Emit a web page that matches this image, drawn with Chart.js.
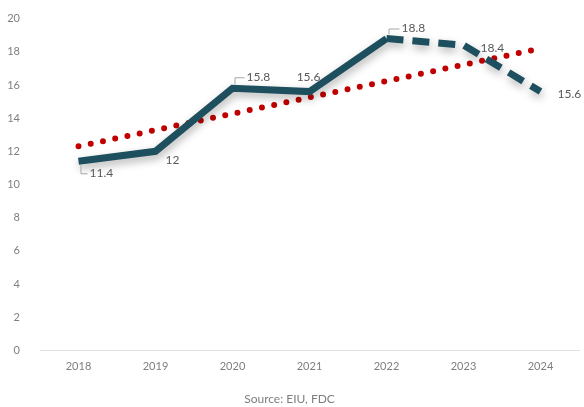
<!DOCTYPE html>
<html>
<head>
<meta charset="utf-8">
<script src="https://cdn.jsdelivr.net/npm/chart.js@4.4.1/dist/chart.umd.min.js"></script>
<style>
  html, body { margin: 0; padding: 0; background: #fff; }
  #wrap { width: 584px; height: 407px; }
</style>
</head>
<body>
<div id="wrap"><canvas id="chart" width="584" height="407"></canvas></div>
<script>
var years = ["2018", "2019", "2020", "2021", "2022", "2023", "2024"];
var growth = [11.4, 12, 15.8, 15.6, 18.8, 18.4, 15.6];
// straight trend line, only its two ends are given
var trend = [12.3, null, null, null, null, null, 18.2];
var yTicks = [0, 2, 4, 6, 8, 10, 12, 14, 16, 18, 20];

// where each value label sits relative to its point
var labelPos = [
  { dx: 11, dy: 12, align: "left", leader: true },
  { dx: 10, dy: 9, align: "left" },
  { dx: 14, dy: -11, align: "left", leader: true },
  { dx: -1, dy: -14, align: "center" },
  { dx: 15, dy: -10, align: "left", leader: true },
  { dx: 17, dy: 3, align: "left" },
  { dx: 17, dy: 3, align: "left" }
];

var lineShadow = {
  id: "lineShadow",
  beforeDatasetDraw: function(chart, args) {
    if (args.index !== 0) return;
    var ctx = chart.ctx;
    ctx.save();
    ctx.shadowColor = "rgba(0,0,0,0.3)";
    ctx.shadowBlur = 8;
    ctx.shadowOffsetX = 1;
    ctx.shadowOffsetY = 4;
  },
  afterDatasetDraw: function(chart, args) {
    if (args.index !== 0) return;
    chart.ctx.restore();
  }
};

var valueLabels = {
  id: "valueLabels",
  afterDatasetsDraw: function(chart) {
    var ctx = chart.ctx;
    var meta = chart.getDatasetMeta(0);
    ctx.save();
    ctx.font = "12px Lato, 'DejaVu Sans', sans-serif";
    ctx.fillStyle = "#595959";
    ctx.textBaseline = "middle";
    meta.data.forEach(function(pt, i) {
      var p = labelPos[i];
      var x = pt.x + p.dx, y = pt.y + p.dy;
      ctx.textAlign = p.align;
      ctx.fillText(String(growth[i]), x, y);
      if (p.leader) {
        // small bracket from the point to its label
        ctx.strokeStyle = "#a6a6a6";
        ctx.lineWidth = 1;
        ctx.beginPath();
        var lx = pt.x + 2;
        var ly = p.dy > 0 ? pt.y + 4 : pt.y - 4;
        ctx.moveTo(lx + 0.5, ly);
        ctx.lineTo(lx + 0.5, y + 0.5);
        ctx.lineTo(x - 2, y + 0.5);
        ctx.stroke();
      }
    });
    ctx.restore();
  }
};

new Chart(document.getElementById("chart"), {
  type: "line",
  data: {
    labels: years,
    datasets: [
      {
        data: growth,
        borderColor: "#1d4f5e",
        borderWidth: 7,
        pointRadius: 0,
        tension: 0,
        borderJoinStyle: "miter",
        segment: {
          borderDash: function(c) { return c.p0DataIndex >= 4 ? [17, 9] : undefined; }
        }
      },
      {
        data: trend,
        spanGaps: true,
        borderColor: "#c00000",
        borderWidth: 6,
        borderCapStyle: "round",
        borderDash: [0, 12.5],
        pointRadius: 0,
        tension: 0
      }
    ]
  },
  options: {
    responsive: false,
    animation: false,
    layout: { padding: { top: 12, right: 5, left: 0, bottom: 0 } },
    plugins: {
      legend: { display: false },
      tooltip: { enabled: false },
      title: {
        display: true,
        position: "bottom",
        text: "Source: EIU, FDC",
        color: "#7f7f7f",
        font: { family: "Lato, sans-serif", size: 12, weight: "normal" },
        padding: { top: 10, bottom: 1 }
      }
    },
    scales: {
      x: {
        offset: true,
        grid: { display: false, drawTicks: false },
        border: { color: "#e3e3e3", width: 1 },
        ticks: {
          color: "#7f7f7f",
          font: { family: "Lato, sans-serif", size: 11 },
          padding: 9,
          maxRotation: 0
        }
      },
      y: {
        min: 0,
        max: 20,
        afterBuildTicks: function(axis) {
          axis.ticks = yTicks.map(function(v) { return { value: v }; });
        },
        afterFit: function(axis) { axis.width = 40; },
        grid: { display: false },
        border: { display: false },
        ticks: {
          color: "#7f7f7f",
          font: { family: "Lato, sans-serif", size: 11 },
          padding: 12
        }
      }
    }
  },
  plugins: [lineShadow, valueLabels]
});
</script>
</body>
</html>
